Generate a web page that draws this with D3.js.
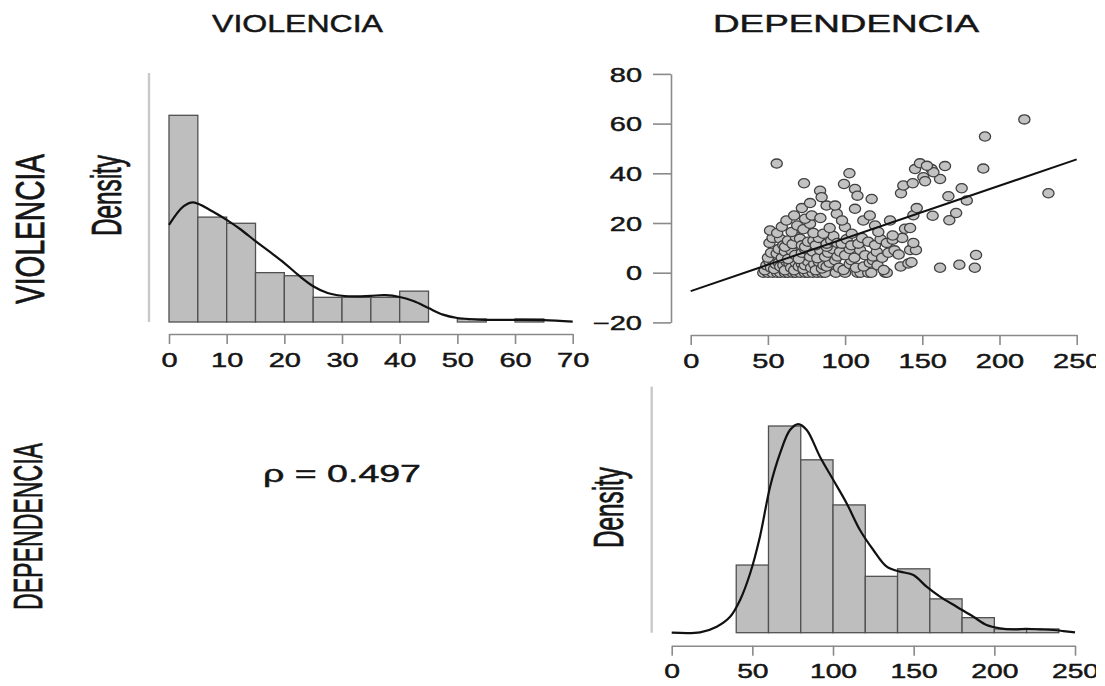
<!DOCTYPE html>
<html><head><meta charset="utf-8">
<script src="https://cdn.jsdelivr.net/npm/d3@7"></script>
<style>
body{margin:0;background:#fff}
svg{display:block}
text{font-family:"Liberation Sans",Arial,Helvetica,sans-serif;fill:#151515;stroke:#151515;stroke-width:0.45px}
</style>
</head><body>
<svg id="c" width="1105" height="686"></svg>
<script>
// ---------- DATA ----------
const varNames = ["VIOLENCIA", "DEPENDENCIA"];
const rhoLabel = "\u03C1 = 0.497";

// histogram of VIOLENCIA (bin edges and counts)
const violBreaks = [0,5,10,15,20,25,30,35,40,45,50,55,60,65];
const violCounts = [67,34,32,16,15,8,8,8,10,0,1,0,1];
// kernel density of VIOLENCIA
const violDensX = [0,2.5,4.2,7.5,10,12.5,15,17.5,20,22.5,25,27.5,30,32.5,35,37.5,40,42.5,45,47.5,50,52.5,55,60,65,70];
const violDensY = [0.0315,0.0375,0.0388,0.0359,0.0331,0.0299,0.0262,0.0227,0.0191,0.0151,0.0116,0.0094,0.0085,0.0083,0.0085,0.0087,0.0081,0.0067,0.0045,0.0024,0.0013,0.0009,0.0007,0.0007,0.0006,0.0001];

// histogram of DEPENDENCIA
const depBreaks = [40,60,80,100,120,140,160,180,200,220,240];
const depCounts = [18,55,46,34,15,17,9,4,1,1];
// kernel density of DEPENDENCIA
const depDensX = [0,17.6,27.9,36.2,42.4,48.6,54.7,61,67.1,73.3,78.5,83.7,91.9,100.2,108.5,116.7,125,133.3,141.5,149.8,158,166.3,176.6,187,195.2,203.5,211.8,220,228.3,236.6,242.8,250];
const depDensY = [0,0.00002,0.0004,0.00106,0.00218,0.00394,0.00639,0.00971,0.01191,0.01348,0.01388,0.01348,0.01171,0.01016,0.0086,0.00683,0.0055,0.00439,0.00406,0.00384,0.00306,0.0024,0.00173,0.00106,0.00051,0.00029,0.00022,0.00025,0.00022,0.00018,0.00011,0.00002];

// scatter: [DEPENDENCIA, VIOLENCIA]
const scatterPoints = [
 [47,0],[50,0],[53,0],[56,0],[58,0],[61,0],[63,0],[66,0],[68,0],[71,0],[74,0],[76,0],[79,0],[82,0],[85,0],[87,0],[94,0],[100,0],[108,0],[110,0],[115,0],[117,0],[126,0],[127,0],
 [48,1],[49,3],[51,4.5],[52,2],[54,1.5],[55,3.5],[57,4],[58,2.5],[60,3],[61,1],[62,4.5],[64,3.7],[65,2],[67,1],[68,4],[70,2.5],[72,3.5],[73,1.5],[74,3],[76,4.5],[78,2],[80,3.5],[81,1],[83,4.4],[85,1.7],[86,3],[88,2.5],[90,4],[93.5,5],[96,2],[99,1.1],[103,3.5],[104,5],[107,2],[112,2.5],[116,4],[118,5],[121,3],[125,1.1],[136,2.5],[141,3.7],[143,4.2],[161.5,2],[174,3.2],[184,2],
 [50,6],[52,8],[55.7,7.7],[57,9.5],[59,6],[61,8.5],[63,5.5],[65,9],[67.6,7.1],[70,5.5],[72,8],[74,9.5],[77.3,6.4],[79,8.5],[82,5.8],[83.8,9.1],[87,6.4],[89,8],[92,9.5],[95,6.5],[96.7,8.4],[100,7],[103,9.5],[106,6],[109.7,9.1],[113,7],[118,6.5],[120.5,8.4],[124,6],[128,8],[132,9],[134.7,7.3],[142.1,9.1],[145.9,9.1],[184.8,7.1],
 [51,12],[53,14],[57.9,13.7],[60,11],[61.1,10.4],[63,13],[66,11.5],[68,14.5],[70.8,13.7],[72,11],[74.1,10.4],[76,12.5],[79.5,13],[81,11],[83,14],[88.1,10.4],[88.1,11.7],[91,13],[92.4,14.8],[95,12],[97.8,11.7],[101,13.5],[104,11],[108.6,11.7],[111,14],[115,12.5],[119.4,11.1],[123,13.5],[127,12],[130.8,13.3],[137,14],[144.2,12],
 [51.4,17],[56,16],[59,18.5],[65.4,16.4],[69,19],[73,17.5],[77.3,19.7],[79.5,16],[85.9,15.7],[90,18],[99.9,18.4],[104.3,15.7],[119.4,19],[121.5,16.4],[130.8,15],[138.8,17.7],[142.1,18],
 [62,21],[67,23],[74.1,21.7],[78.4,23],[84,22],[94.6,23.7],[98,21],[111.8,21],[116,23],[129.1,21],[144.2,23.1],[156.7,22.9],[167.5,21.1],[171.9,24],
 [72,26],[77.3,28],[88,27],[93.5,27],[106.4,25.7],[117.2,29.7],[146.4,26],[178.8,29.1],
 [83.8,33],[84.8,30.4],[106.4,33.7],[108,31],[136.2,32],[166.9,30.8],[175.5,34],[231.7,32],
 [73.4,36],[99.3,35.7],[137.7,35.1],[143.8,36],[150.7,38.4],[151.8,36.8],[161.5,37.7],
 [55.7,43.9],[102.8,40],[145.3,41.7],[148.5,44],[156,41.7],[157.2,40.4],[164.7,42.9],[189.5,41.9],[153,43],
 [190.6,54.8],[216.1,61.7]
];
// fitted regression line
const regIntercept = -7.4;
const regSlope = 0.212;

// tick labels
const violTicks = [0,10,20,30,40,50,60,70];
const depTicks = [0,50,100,150,200,250];
const scatterYTicks = [-20,0,20,40,60,80];

// ---------- DRAW ----------
const svg = d3.select("#c");
svg.append("defs").append("clipPath").attr("id","clip")
  .append("rect").attr("x",0).attr("y",0).attr("width",1096).attr("height",686);
const root = svg.append("g").attr("clip-path","url(#clip)");

const AX = "#8a8a8a";
const BARFILL = "#bebebe", BARSTROKE = "#505050";

function label(g, x, y, str, size, sx, rot, anchor, len){
  const t = g.append("text")
    .attr("transform", `translate(${x},${y}) scale(${sx},1)` + (rot ? ` rotate(${rot})` : ""))
    .attr("text-anchor", anchor || "middle")
    .attr("font-size", size)
    .text(str);
  if (len) t.attr("textLength", len).attr("lengthAdjust","spacingAndGlyphs");
  return t;
}

function styleAxis(g, labelOffset, sx, fs){
  g.select(".domain").attr("stroke", AX).attr("stroke-width", 1.6);
  g.selectAll(".tick line").attr("stroke", AX).attr("stroke-width", 1.6);
  g.selectAll(".tick text")
    .attr("y", 0).attr("dy", 0).attr("x", 0)
    .attr("font-size", fs)
    .attr("fill", "#151515")
    .attr("font-family", "Liberation Sans, Arial, sans-serif")
    .attr("transform", `translate(0,${labelOffset}) scale(${sx},1)`);
}

function histogram(cfg){
  const { breaks, counts, densX, densY, xDom, xRange, yBase, yTop, ticks, axisY, yLineX, topBar } = cfg;
  const N = d3.sum(counts);
  const bw = breaks[1] - breaks[0];
  const dens = counts.map(c => c / (N * bw));
  const maxD = d3.max(dens);
  const x = d3.scaleLinear().domain(xDom).range(xRange);
  const yMax = maxD * (yBase - yTop) / topBar;
  const y = d3.scaleLinear().domain([0, yMax]).range([yBase, yTop]);
  const g = root.append("g");
  g.append("line").attr("x1", yLineX).attr("x2", yLineX).attr("y1", yTop).attr("y2", yBase)
    .attr("stroke", "#c9c9c9").attr("stroke-width", 2.4);
  g.selectAll("rect.bar").data(dens).join("rect").attr("class","bar")
    .attr("x", (d,i) => x(breaks[i]))
    .attr("width", (d,i) => x(breaks[i+1]) - x(breaks[i]))
    .attr("y", d => y(d))
    .attr("height", d => yBase - y(d))
    .attr("fill", BARFILL).attr("stroke", BARSTROKE).attr("stroke-width", 1.3);
  const line = d3.line().x(d => x(d[0])).y(d => y(d[1])).curve(d3.curveCatmullRom);
  g.append("path").datum(densX.map((v,i)=>[v, densY[i]]))
    .attr("d", line).attr("fill","none").attr("stroke","#111").attr("stroke-width",2.2);
  const ax = g.append("g").attr("transform", `translate(0,${axisY})`)
    .call(d3.axisBottom(x).tickValues(ticks).tickSize(10).tickSizeOuter(0).tickFormat(d3.format("d")));
  styleAxis(ax, cfg.labelOff, 1.45, cfg.fs);
  return g;
}

// top-left histogram (VIOLENCIA)
histogram({breaks: violBreaks, counts: violCounts, densX: violDensX, densY: violDensY,
  xDom:[0,70], xRange:[169,572.7], yBase:322, yTop:73, ticks: violTicks, axisY:334,
  yLineX:149, topBar:206.7, labelOff:33, fs:20});

// bottom-right histogram (DEPENDENCIA)
histogram({breaks: depBreaks, counts: depCounts, densX: depDensX, densY: depDensY,
  xDom:[0,250], xRange:[671.7,1075], yBase:632.7, yTop:386.7, ticks: depTicks, axisY:645.7,
  yLineX:651.7, topBar:206.7, labelOff:32, fs:19.5});

// scatter (x = DEPENDENCIA, y = VIOLENCIA)
const sx = d3.scaleLinear().domain([0,250]).range([690.7,1076.7]);
const sy = d3.scaleLinear().domain([-20,80]).range([322.4,73.9]);
const sg = root.append("g");
sg.selectAll("ellipse").data(scatterPoints).join("ellipse")
  .attr("cx", d => sx(d[0])).attr("cy", d => sy(d[1]))
  .attr("rx", 5.6).attr("ry", 4.6)
  .attr("fill", "#c2c2c2").attr("stroke", "#404040").attr("stroke-width", 1.3);
sg.append("line")
  .attr("x1", sx(0)).attr("y1", sy(regIntercept))
  .attr("x2", sx(250)).attr("y2", sy(regIntercept + regSlope*250))
  .attr("stroke", "#111").attr("stroke-width", 2);
const sxAx = sg.append("g").attr("transform","translate(0,335)")
  .call(d3.axisBottom(sx).tickValues(depTicks).tickSize(10).tickSizeOuter(0).tickFormat(d3.format("d")));
styleAxis(sxAx, 33, 1.45, 20);
const syAx = sg.append("g").attr("transform","translate(671,0)")
  .call(d3.axisLeft(sy).tickValues(scatterYTicks).tickSize(18).tickSizeOuter(0).tickFormat(d3.format("d")));
syAx.select(".domain").attr("stroke", AX).attr("stroke-width",1.6);
syAx.selectAll(".tick line").attr("stroke", AX).attr("stroke-width",1.6);
syAx.selectAll(".tick text").attr("x",0).attr("dy","0.36em")
  .attr("font-size",20).attr("fill","#151515")
  .attr("font-family","Liberation Sans, Arial, sans-serif")
  .attr("text-anchor","end")
  .attr("transform","translate(-29,0) scale(1.45,1)");

// titles and labels
const tg = root.append("g");
label(tg, 297.5, 32, varNames[0], 23.7, 1, 0, "middle", 171);
label(tg, 846, 32, varNames[1], 23.7, 1, 0, "middle", 266);
label(tg, 44, 229, varNames[0], 23.2, 1.75, -90, "middle", 150);
label(tg, 42, 526.5, varNames[1], 23.2, 1.75, -90, "middle", 167);
label(tg, 120.6, 195.5, "Density", 24.3, 1.72, -90, "middle", 81);
label(tg, 623.3, 507.5, "Density", 24.3, 1.72, -90, "middle", 81);
label(tg, 342, 481.7, rhoLabel, 23.3, 1, 0, "middle", 158);
</script>
</body></html>
